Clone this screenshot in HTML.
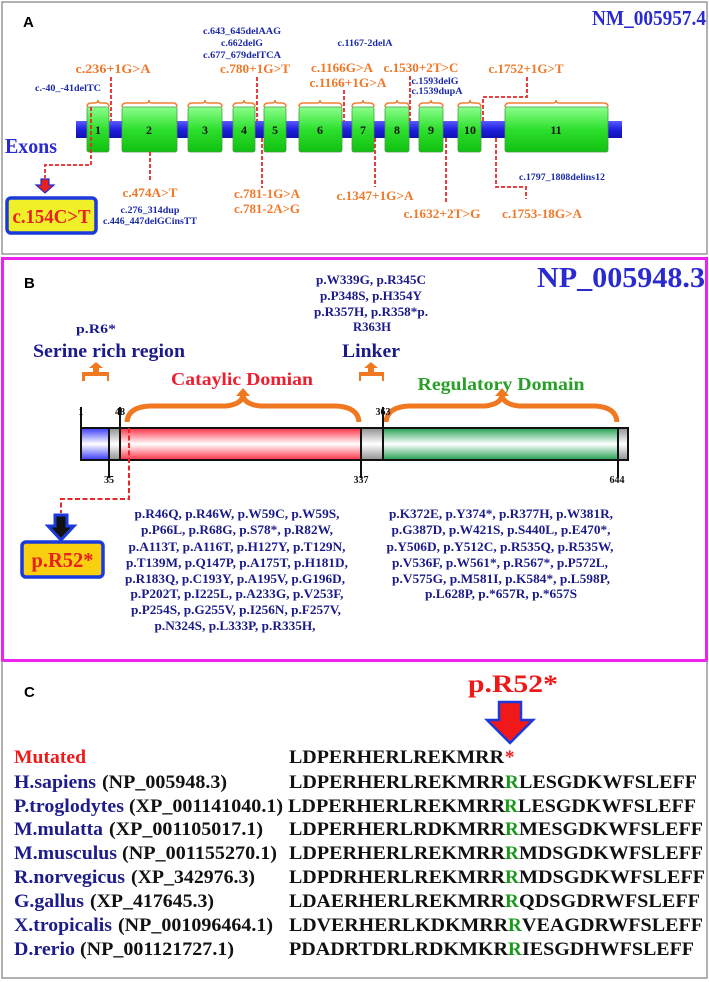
<!DOCTYPE html>
<html><head><meta charset="utf-8"><style>
html,body{margin:0;padding:0;background:#fff}
svg{display:block}
text{font-family:"Liberation Serif",serif;font-weight:bold}
.s{font-family:"Liberation Sans",sans-serif}
.or{fill:#f07828;font-size:13px}
.bl{fill:#1a2aa8;font-size:9.5px}
.li{fill:#1a1a8a;font-size:13px}
.sq{font-size:19px;fill:#111}
.nm{font-size:19px;fill:#1c1c8c}
.ac{font-size:19px;fill:#111}
</style></head><body>
<svg width="709" height="982" viewBox="0 0 709 982" xmlns="http://www.w3.org/2000/svg">
<defs>
<linearGradient id="gEx" x1="0" y1="0" x2="0" y2="1"><stop offset="0" stop-color="#8cff8c"/><stop offset="0.5" stop-color="#2ee02e"/><stop offset="1" stop-color="#10c010"/></linearGradient>
<linearGradient id="gBar" x1="0" y1="0" x2="0" y2="1"><stop offset="0" stop-color="#5a5aff"/><stop offset="0.5" stop-color="#2020e0"/><stop offset="1" stop-color="#1010b0"/></linearGradient>
<linearGradient id="gB" x1="0" y1="0" x2="0" y2="1"><stop offset="0" stop-color="#3a3aff"/><stop offset="0.5" stop-color="#ffffff"/><stop offset="1" stop-color="#3a3aff"/></linearGradient>
<linearGradient id="gR" x1="0" y1="0" x2="0" y2="1"><stop offset="0" stop-color="#ff3045"/><stop offset="0.5" stop-color="#ffffff"/><stop offset="1" stop-color="#ff3045"/></linearGradient>
<linearGradient id="gG" x1="0" y1="0" x2="0" y2="1"><stop offset="0" stop-color="#20a050"/><stop offset="0.5" stop-color="#ffffff"/><stop offset="1" stop-color="#20a050"/></linearGradient>
<linearGradient id="gY" x1="0" y1="0" x2="0" y2="1"><stop offset="0" stop-color="#909090"/><stop offset="0.5" stop-color="#ffffff"/><stop offset="1" stop-color="#909090"/></linearGradient>
</defs>

<!-- Panel A -->
<rect x="2" y="2" width="705" height="252" fill="none" stroke="#999" stroke-width="1.5"/>
<text x="23" y="27" class="s" font-size="15" fill="#000">A</text>
<text x="706" y="25" text-anchor="end" font-size="21" fill="#2a2ad0" textLength="114" lengthAdjust="spacingAndGlyphs">NM_005957.4</text>

<text x="242" y="34" class="bl" text-anchor="middle" textLength="78" lengthAdjust="spacingAndGlyphs">c.643_645delAAG</text>
<text x="242" y="46" class="bl" text-anchor="middle" textLength="42" lengthAdjust="spacingAndGlyphs">c.662delG</text>
<text x="242" y="58" class="bl" text-anchor="middle" textLength="78" lengthAdjust="spacingAndGlyphs">c.677_679delTCA</text>
<text x="365" y="46" class="bl" text-anchor="middle" textLength="55" lengthAdjust="spacingAndGlyphs">c.1167-2delA</text>
<text x="68" y="91" class="bl" text-anchor="middle" textLength="66" lengthAdjust="spacingAndGlyphs">c.-40_-41delTC</text>
<text x="435" y="84" class="bl" text-anchor="middle" textLength="47" lengthAdjust="spacingAndGlyphs">c.1593delG</text>
<text x="437" y="94" class="bl" text-anchor="middle" textLength="51" lengthAdjust="spacingAndGlyphs">c.1539dupA</text>
<text x="562" y="180" class="bl" text-anchor="middle" textLength="86" lengthAdjust="spacingAndGlyphs">c.1797_1808delins12</text>
<text x="150" y="213" class="bl" text-anchor="middle" textLength="59" lengthAdjust="spacingAndGlyphs">c.276_314dup</text>
<text x="150" y="224" class="bl" text-anchor="middle" textLength="94" lengthAdjust="spacingAndGlyphs">c.446_447delGCinsTT</text>

<text x="113" y="73" class="or" text-anchor="middle" textLength="75" lengthAdjust="spacingAndGlyphs">c.236+1G&gt;A</text>
<text x="255" y="73" class="or" text-anchor="middle" textLength="70" lengthAdjust="spacingAndGlyphs">c.780+1G&gt;T</text>
<text x="342" y="72" class="or" text-anchor="middle" textLength="62" lengthAdjust="spacingAndGlyphs">c.1166G&gt;A</text>
<text x="421" y="72" class="or" text-anchor="middle" textLength="75" lengthAdjust="spacingAndGlyphs">c.1530+2T&gt;C</text>
<text x="526" y="73" class="or" text-anchor="middle" textLength="75" lengthAdjust="spacingAndGlyphs">c.1752+1G&gt;T</text>
<text x="348" y="87" class="or" text-anchor="middle" textLength="77" lengthAdjust="spacingAndGlyphs">c.1166+1G&gt;A</text>
<text x="150" y="197" class="or" text-anchor="middle" textLength="55" lengthAdjust="spacingAndGlyphs">c.474A&gt;T</text>
<text x="267" y="198" class="or" text-anchor="middle" textLength="66" lengthAdjust="spacingAndGlyphs">c.781-1G&gt;A</text>
<text x="267" y="213" class="or" text-anchor="middle" textLength="66" lengthAdjust="spacingAndGlyphs">c.781-2A&gt;G</text>
<text x="375" y="200" class="or" text-anchor="middle" textLength="77" lengthAdjust="spacingAndGlyphs">c.1347+1G&gt;A</text>
<text x="442" y="218" class="or" text-anchor="middle" textLength="77" lengthAdjust="spacingAndGlyphs">c.1632+2T&gt;G</text>
<text x="542" y="218" class="or" text-anchor="middle" textLength="80" lengthAdjust="spacingAndGlyphs">c.1753-18G&gt;A</text>

<text x="5" y="153" font-size="21" fill="#2a2ad0" textLength="52" lengthAdjust="spacingAndGlyphs">Exons</text>

<rect x="76" y="121" width="546" height="17" fill="url(#gBar)"/>
<g fill="url(#gEx)" stroke="#4a9a4a" stroke-width="0.8">
<rect x="87" y="107" width="22" height="45" rx="2"/>
<rect x="122" y="107" width="55" height="45" rx="2"/>
<rect x="188" y="107" width="34" height="45" rx="2"/>
<rect x="233" y="107" width="22" height="45" rx="2"/>
<rect x="264" y="107" width="22" height="45" rx="2"/>
<rect x="299" y="107" width="43" height="45" rx="2"/>
<rect x="352" y="107" width="22" height="45" rx="2"/>
<rect x="385" y="107" width="24" height="45" rx="2"/>
<rect x="419" y="107" width="24" height="45" rx="2"/>
<rect x="458" y="107" width="23" height="45" rx="2"/>
<rect x="505" y="107" width="103" height="45" rx="2"/>
</g>
<g class="s" font-size="12" fill="#111" text-anchor="middle" font-weight="bold">
<text x="98" y="134">1</text><text x="149" y="134">2</text><text x="205" y="134">3</text><text x="244" y="134">4</text><text x="275" y="134">5</text><text x="320" y="134">6</text><text x="363" y="134">7</text><text x="397" y="134">8</text><text x="431" y="134">9</text><text x="470" y="134">10</text><text x="556" y="134">11</text>
</g>
<g fill="none" stroke="#f08030" stroke-width="1.5">
<path d="M87 107 Q87 103 91 103 L95 103 Q98 103 98 100 Q98 103 101 103 L105 103 Q109 103 109 107"/>
<path d="M122 107 Q122 103 126 103 L146 103 Q149 103 149 100 Q149 103 152 103 L173 103 Q177 103 177 107"/>
<path d="M188 107 Q188 103 192 103 L202 103 Q205 103 205 100 Q205 103 208 103 L218 103 Q222 103 222 107"/>
<path d="M233 107 Q233 103 237 103 L241 103 Q244 103 244 100 Q244 103 247 103 L251 103 Q255 103 255 107"/>
<path d="M264 107 Q264 103 268 103 L272 103 Q275 103 275 100 Q275 103 278 103 L282 103 Q286 103 286 107"/>
<path d="M299 107 Q299 103 303 103 L317 103 Q320 103 320 100 Q320 103 323 103 L338 103 Q342 103 342 107"/>
<path d="M352 107 Q352 103 356 103 L360 103 Q363 103 363 100 Q363 103 366 103 L370 103 Q374 103 374 107"/>
<path d="M385 107 Q385 103 389 103 L394 103 Q397 103 397 100 Q397 103 400 103 L405 103 Q409 103 409 107"/>
<path d="M419 107 Q419 103 423 103 L428 103 Q431 103 431 100 Q431 103 434 103 L439 103 Q443 103 443 107"/>
<path d="M458 107 Q458 103 462 103 L467 103 Q470 103 470 100 Q470 103 473 103 L477 103 Q481 103 481 107"/>
<path d="M505 107 Q505 103 509 103 L553 103 Q556 103 556 100 Q556 103 559 103 L604 103 Q608 103 608 107"/>
</g>
<g fill="none" stroke="#e82828" stroke-width="1.8" stroke-dasharray="4,2">
<path d="M111 77 V121"/><path d="M257 77 V121"/><path d="M344 90 V121"/><path d="M410 76 V121"/>
<path d="M527 77 V97 H483 V121"/>
<path d="M150 152 V180"/><path d="M262 138 V188"/><path d="M375 138 V187"/><path d="M446 138 V204"/>
<path d="M496 138 V187 H526 V199"/>
<path d="M91 107 V165 H45 V178"/>
</g>
<path d="M41 179 H49 V185 H54 L45 193 L36 185 H41 Z" fill="#e82020" stroke="#2a2ad0" stroke-width="1.2"/>
<rect x="7" y="198" width="89" height="35" rx="4" fill="#f0f028" stroke="#1a3adc" stroke-width="3.5"/>
<text x="51.5" y="223" text-anchor="middle" font-size="20" fill="#e82020" textLength="78" lengthAdjust="spacingAndGlyphs">c.154C&gt;T</text>

<!-- Panel B -->
<rect x="2.5" y="258.5" width="704" height="402" fill="none" stroke="#ee22ee" stroke-width="3"/>
<text x="24" y="288" class="s" font-size="15" fill="#000">B</text>
<text x="705" y="287" text-anchor="end" font-size="29" fill="#2a2ad0" textLength="168" lengthAdjust="spacingAndGlyphs">NP_005948.3</text>

<text x="371" y="284" class="li" text-anchor="middle" textLength="110" lengthAdjust="spacingAndGlyphs">p.W339G, p.R345C</text>
<text x="371" y="300" class="li" text-anchor="middle" textLength="102" lengthAdjust="spacingAndGlyphs">p.P348S, p.H354Y</text>
<text x="371" y="316" class="li" text-anchor="middle" textLength="114" lengthAdjust="spacingAndGlyphs">p.R357H, p.R358*p.</text>
<text x="372" y="331" class="li" text-anchor="middle" textLength="38" lengthAdjust="spacingAndGlyphs">R363H</text>
<text x="96" y="333" class="li" text-anchor="middle" font-size="15" textLength="40" lengthAdjust="spacingAndGlyphs">p.R6*</text>
<text x="109" y="357" text-anchor="middle" font-size="19" fill="#1a1a8a" textLength="152" lengthAdjust="spacingAndGlyphs">Serine rich region</text>
<text x="371" y="357" text-anchor="middle" font-size="19" fill="#1a1a8a" textLength="58" lengthAdjust="spacingAndGlyphs">Linker</text>
<text x="242" y="385" text-anchor="middle" font-size="18" fill="#ee2030" textLength="142" lengthAdjust="spacingAndGlyphs">Cataylic Domian</text>
<text x="501" y="390" text-anchor="middle" font-size="18" fill="#28a028" textLength="167" lengthAdjust="spacingAndGlyphs">Regulatory Domain</text>

<g fill="#f07820">
<path d="M96 362 L103 368 H99 V372 H109 V381 H107 V376 H85 V381 H82 V372 H93 V368 H89 Z"/>
<path d="M371 362 L378 368 H374 V372 H384 V381 H382 V376 H361 V381 H359 V372 H368 V368 H364 Z"/>
<path d="M243 388 L250 396 H236 Z"/>
<path d="M502 388 L509 396 H495 Z"/>
</g>
<g fill="none" stroke="#f07820" stroke-width="5">
<path d="M127 422 Q128 407 150 406 L226 406 Q243 404 243 394 Q243 404 260 406 L336 406 Q358 407 359 422"/>
<path d="M386 422 Q387 407 409 406 L485 406 Q502 404 502 394 Q502 404 519 406 L595 406 Q616 407 617 422"/>
</g>

<rect x="81" y="428" width="28" height="32" fill="url(#gB)"/>
<rect x="109" y="428" width="11" height="32" fill="url(#gY)"/>
<rect x="120" y="428" width="241" height="32" fill="url(#gR)"/>
<rect x="361" y="428" width="22" height="32" fill="url(#gY)"/>
<rect x="383" y="428" width="235" height="32" fill="url(#gG)"/>
<rect x="618" y="428" width="10" height="32" fill="url(#gY)"/>
<rect x="81" y="428" width="547" height="32" fill="none" stroke="#111" stroke-width="2"/>
<g stroke="#111" stroke-width="2">
<path d="M109 428 V478"/><path d="M120 407 V460"/><path d="M361 428 V478"/><path d="M383 407 V460"/><path d="M618 428 V478"/><path d="M81 407 V428"/>
</g>
<g class="s" font-size="10" fill="#111" text-anchor="middle" font-weight="bold">
<text x="81" y="415">1</text><text x="120" y="415">48</text><text x="383" y="415">363</text>
<text x="109" y="483">35</text><text x="361" y="483">337</text><text x="617" y="483">644</text>
</g>
<path d="M129 428 V499 H61 V513" fill="none" stroke="#e82828" stroke-width="2" stroke-dasharray="5,2.5"/>
<path d="M55 515 H67 V526 H74 L61 540 L48 526 H55 Z" fill="#111" stroke="#1a3adc" stroke-width="3"/>
<rect x="22" y="542" width="81" height="35" rx="4" fill="#f8d010" stroke="#1a3adc" stroke-width="3.5"/>
<text x="62.5" y="567" text-anchor="middle" font-size="21" fill="#e82020" textLength="62" lengthAdjust="spacingAndGlyphs">p.R52*</text>

<g class="li" text-anchor="middle">
<text x="237" y="518" textLength="205" lengthAdjust="spacingAndGlyphs">p.R46Q, p.R46W, p.W59C, p.W59S,</text>
<text x="237" y="534" textLength="192" lengthAdjust="spacingAndGlyphs">p.P66L, p.R68G, p.S78*, p.R82W,</text>
<text x="237" y="551" textLength="217" lengthAdjust="spacingAndGlyphs">p.A113T, p.A116T, p.H127Y, p.T129N,</text>
<text x="237" y="567" textLength="222" lengthAdjust="spacingAndGlyphs">p.T139M, p.Q147P, p.A175T, p.H181D,</text>
<text x="235" y="583" textLength="220" lengthAdjust="spacingAndGlyphs">p.R183Q, p.C193Y, p.A195V, p.G196D,</text>
<text x="237" y="598" textLength="213" lengthAdjust="spacingAndGlyphs">p.P202T, p.I225L, p.A233G, p.V253F,</text>
<text x="236" y="614" textLength="210" lengthAdjust="spacingAndGlyphs">p.P254S, p.G255V, p.I256N, p.F257V,</text>
<text x="235" y="630" textLength="161" lengthAdjust="spacingAndGlyphs">p.N324S, p.L333P, p.R335H,</text>
<text x="501" y="518" textLength="224" lengthAdjust="spacingAndGlyphs">p.K372E, p.Y374*, p.R377H, p.W381R,</text>
<text x="501" y="534" textLength="219" lengthAdjust="spacingAndGlyphs">p.G387D, p.W421S, p.S440L, p.E470*,</text>
<text x="500" y="551" textLength="227" lengthAdjust="spacingAndGlyphs">p.Y506D, p.Y512C, p.R535Q, p.R535W,</text>
<text x="500" y="567" textLength="216" lengthAdjust="spacingAndGlyphs">p.V536F, p.W561*, p.R567*, p.P572L,</text>
<text x="501" y="583" textLength="218" lengthAdjust="spacingAndGlyphs">p.V575G, p.M581I, p.K584*, p.L598P,</text>
<text x="501" y="598" textLength="152" lengthAdjust="spacingAndGlyphs">p.L628P, p.*657R, p.*657S</text>
</g>

<!-- Panel C -->
<path d="M2 661 V978 H707 V661" fill="none" stroke="#999" stroke-width="1.5"/>
<text x="24" y="697" class="s" font-size="15" fill="#000">C</text>
<text x="513" y="692" text-anchor="middle" font-size="25" fill="#ee1a1a" textLength="90" lengthAdjust="spacingAndGlyphs">p.R52*</text>
<path d="M499 702 H521 V720 H533 L510 743 L487 720 H499 Z" fill="#f01818" stroke="#1a3adc" stroke-width="2.5"/>

<text x="14" y="763" font-size="19" fill="#ee1a1a" textLength="72" lengthAdjust="spacingAndGlyphs">Mutated</text>
<text x="289" y="763" class="sq" textLength="215" lengthAdjust="spacingAndGlyphs">LDPERHERLREKMRR</text>
<text x="505" y="763" font-size="19" fill="#ee1a1a">*</text>

<g>
<text x="14" y="788" class="nm" textLength="82" lengthAdjust="spacingAndGlyphs">H.sapiens</text>
<text x="102" y="788" class="ac" textLength="125" lengthAdjust="spacingAndGlyphs">(NP_005948.3)</text>
<text x="14" y="812" class="nm" textLength="110" lengthAdjust="spacingAndGlyphs">P.troglodytes</text>
<text x="129" y="812" class="ac" textLength="154" lengthAdjust="spacingAndGlyphs">(XP_001141040.1)</text>
<text x="14" y="835" class="nm" textLength="89" lengthAdjust="spacingAndGlyphs">M.mulatta</text>
<text x="109" y="835" class="ac" textLength="154" lengthAdjust="spacingAndGlyphs">(XP_001105017.1)</text>
<text x="14" y="859" class="nm" textLength="103" lengthAdjust="spacingAndGlyphs">M.musculus</text>
<text x="122" y="859" class="ac" textLength="155" lengthAdjust="spacingAndGlyphs">(NP_001155270.1)</text>
<text x="14" y="883" class="nm" textLength="111" lengthAdjust="spacingAndGlyphs">R.norvegicus</text>
<text x="131" y="883" class="ac" textLength="124" lengthAdjust="spacingAndGlyphs">(XP_342976.3)</text>
<text x="14" y="907" class="nm" textLength="70" lengthAdjust="spacingAndGlyphs">G.gallus</text>
<text x="90" y="907" class="ac" textLength="124" lengthAdjust="spacingAndGlyphs">(XP_417645.3)</text>
<text x="14" y="931" class="nm" textLength="98" lengthAdjust="spacingAndGlyphs">X.tropicalis</text>
<text x="118" y="931" class="ac" textLength="155" lengthAdjust="spacingAndGlyphs">(NP_001096464.1)</text>
<text x="14" y="955" class="nm" textLength="61" lengthAdjust="spacingAndGlyphs">D.rerio</text>
<text x="80" y="955" class="ac" textLength="154" lengthAdjust="spacingAndGlyphs">(NP_001121727.1)</text>
</g>

<g class="sq">
<text x="289" y="788" textLength="216" lengthAdjust="spacingAndGlyphs">LDPERHERLREKMRR</text>
<text x="288" y="812" textLength="217" lengthAdjust="spacingAndGlyphs">LDPERHERLREKMRR</text>
<text x="289" y="835" textLength="216" lengthAdjust="spacingAndGlyphs">LDPERHERLRDKMRR</text>
<text x="289" y="859" textLength="216" lengthAdjust="spacingAndGlyphs">LDPERHERLREKMRR</text>
<text x="289" y="883" textLength="216" lengthAdjust="spacingAndGlyphs">LDPDRHERLREKMRR</text>
<text x="289" y="907" textLength="216" lengthAdjust="spacingAndGlyphs">LDAERHERLREKMRR</text>
<text x="289" y="931" textLength="219" lengthAdjust="spacingAndGlyphs">LDVERHERLKDKMRR</text>
<text x="289" y="955" textLength="219" lengthAdjust="spacingAndGlyphs">PDADRTDRLRDKMKR</text>
</g>
<g font-size="19" fill="#1a9a1a">
<text x="505" y="788">R</text><text x="504" y="812">R</text><text x="505" y="835">R</text><text x="505" y="859">R</text><text x="505" y="883">R</text><text x="505" y="907">R</text><text x="508" y="931">R</text><text x="508" y="955">R</text>
</g>
<g class="sq">
<text x="519" y="788" textLength="178" lengthAdjust="spacingAndGlyphs">LESGDKWFSLEFF</text>
<text x="518" y="812" textLength="178" lengthAdjust="spacingAndGlyphs">LESGDKWFSLEFF</text>
<text x="519" y="835" textLength="184" lengthAdjust="spacingAndGlyphs">MESGDKWFSLEFF</text>
<text x="519" y="859" textLength="184" lengthAdjust="spacingAndGlyphs">MDSGDKWFSLEFF</text>
<text x="519" y="883" textLength="186" lengthAdjust="spacingAndGlyphs">MDSGDKWFSLEFF</text>
<text x="519" y="907" textLength="181" lengthAdjust="spacingAndGlyphs">QDSGDRWFSLEFF</text>
<text x="522" y="931" textLength="181" lengthAdjust="spacingAndGlyphs">VEAGDRWFSLEFF</text>
<text x="522" y="955" textLength="172" lengthAdjust="spacingAndGlyphs">IESGDHWFSLEFF</text>
</g>
</svg>
</body></html>
